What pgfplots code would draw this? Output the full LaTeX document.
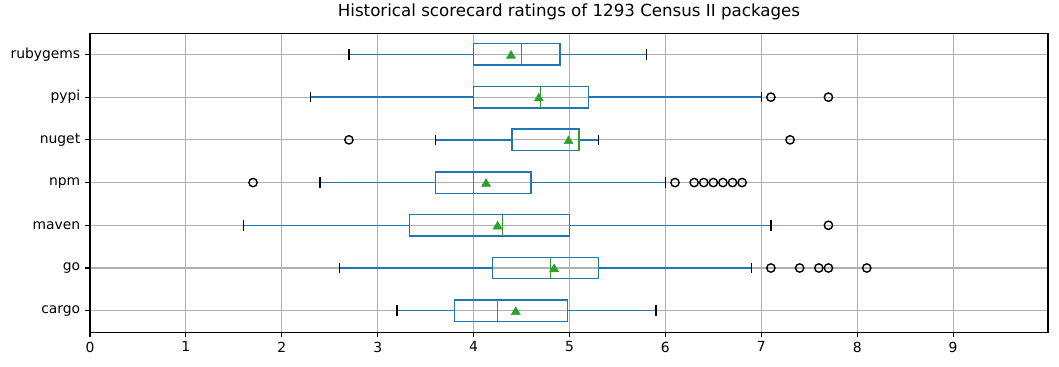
\documentclass[border=0pt]{standalone}
\usepackage{fontspec}
\setmainfont{DejaVu Sans}
\usepackage{pgfplots}
\pgfplotsset{compat=1.18}
\usepgfplotslibrary{statistics}
\definecolor{c0}{RGB}{31,119,180}
\definecolor{c2}{RGB}{44,160,44}
\definecolor{gridc}{RGB}{176,176,176}
\begin{document}
\begin{tikzpicture}
\begin{axis}[
  name=ax,
  scale only axis,
  width=689.8pt, height=215.3pt,
  xmin=0, xmax=9.99, ymin=0.5, ymax=7.5,
  xtick={0,1,2,3,4,5,6,7,8,9},
  ytick={1,2,3,4,5,6,7},
  yticklabels={cargo,go,maven,npm,nuget,pypi,rubygems},
  tick align=outside, tick pos=left,
  major tick length=3.5pt,
  every tick/.style={black, line width=0.8pt},
  axis line style={line width=0.8pt},
  grid=major,
  major grid style={gridc, line width=0.8pt},
  /pgf/number format/assume math mode=true,
  ticklabel style={font=\fontsize{10}{12}\selectfont},
  title={Historical scorecard ratings of 1293 Census II packages},
  title style={font=\fontsize{12}{14}\selectfont, anchor=base, at={(0.5,1)}, yshift=6pt, inner sep=0pt},
  boxplot/draw direction=x,
  boxplot/box extend=0.5,
  boxplot/whisker extend=0,
  boxplot/every box/.style={draw=c0, line width=1pt},
  boxplot/every whisker/.style={draw=c0, line width=1pt},
  boxplot/every median/.style={draw=c2, line width=1pt},
]
% cargo
\addplot[c0, boxplot prepared={draw position=1, lower whisker=3.2, lower quartile=3.8, median=4.25, upper quartile=4.98, upper whisker=5.9}] coordinates {};
% go
\addplot[c0, boxplot prepared={draw position=2, lower whisker=2.6, lower quartile=4.2, median=4.8, upper quartile=5.3, upper whisker=6.9}] coordinates {};
% maven
\addplot[c0, boxplot prepared={draw position=3, lower whisker=1.6, lower quartile=3.33, median=4.3, upper quartile=5.0, upper whisker=7.1}] coordinates {};
% npm
\addplot[c0, boxplot prepared={draw position=4, lower whisker=2.4, lower quartile=3.6, median=4.0, upper quartile=4.6, upper whisker=6.0}] coordinates {};
% nuget
\addplot[c0, boxplot prepared={draw position=5, lower whisker=3.6, lower quartile=4.4, median=5.1, upper quartile=5.1, upper whisker=5.3}] coordinates {};
% pypi
\addplot[c0, boxplot prepared={draw position=6, lower whisker=2.3, lower quartile=4.0, median=4.7, upper quartile=5.2, upper whisker=7.0}] coordinates {};
% rubygems
\addplot[c0, boxplot prepared={draw position=7, lower whisker=2.7, lower quartile=4.0, median=4.5, upper quartile=4.9, upper whisker=5.8}] coordinates {};
% whisker caps
\addplot[only marks, mark=|, mark size=3.85pt, mark options={black, line width=1pt}] coordinates {
 (3.2,1) (5.9,1) (2.6,2) (6.9,2) (1.6,3) (7.1,3) (2.4,4) (6.0,4)
 (3.6,5) (5.3,5) (2.3,6) (7.0,6) (2.7,7) (5.8,7)};
% outliers
\addplot[only marks, mark=o, mark size=3pt, mark options={black, line width=1pt}] coordinates {
 (7.1,2) (7.4,2) (7.6,2) (7.7,2) (8.1,2)
 (7.7,3)
 (1.7,4) (6.1,4) (6.3,4) (6.4,4) (6.5,4) (6.6,4) (6.7,4) (6.8,4)
 (2.7,5) (7.3,5)
 (7.1,6) (7.7,6)};
% means
\addplot[only marks, mark=triangle*, mark size=3.7pt, mark options={fill=c2, draw=c2, line width=0.4pt, yshift=-0.9pt}] coordinates {
 (4.44,1) (4.84,2) (4.25,3) (4.13,4) (4.99,5) (4.68,6) (4.39,7)};
\end{axis}
\path (ax.south west) ++(-64.8pt,-24.5pt) (ax.north east) ++(7.9pt,23.8pt);
\end{tikzpicture}
\end{document}
